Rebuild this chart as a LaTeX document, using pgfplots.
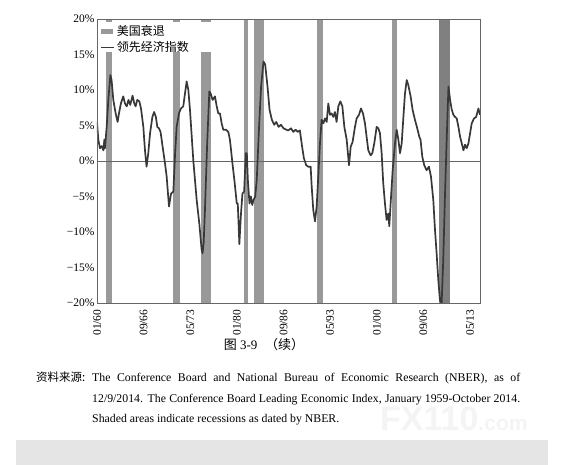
\documentclass[border=0pt]{standalone}
\usepackage{pgfplots}
\pgfplotsset{compat=1.18}
\usepackage{fontspec}
\setmainfont{Liberation Serif}
\newfontfamily\cjk{Noto Sans CJK SC}
\newfontfamily\wmfont{Liberation Sans}
\definecolor{recess}{gray}{0.6}
\definecolor{recessdark}{gray}{0.5}
\definecolor{leiline}{gray}{0.22}
\definecolor{frame}{gray}{0.4}
\pgfplotsset{
  recession legend/.style={legend image code/.code={\fill[recess] (0pt,-2.5pt) rectangle (12pt,2.5pt);}},
  short line legend/.style={legend image code/.code={\draw[##1] (0pt,0pt) -- (13pt,0pt);}},
}

\begin{document}
\begin{tikzpicture}
\useasboundingbox (0pt,0pt) rectangle (563pt,465pt);
% page artefacts
\fill[gray!20] (16pt,0pt) rectangle (548pt,25pt);
\node[anchor=base west, text=gray!9, inner sep=0pt] at (380pt,34pt)
  {\wmfont\bfseries\fontsize{34}{34}\selectfont FX110{\fontsize{21}{21}\selectfont .com}};

\begin{axis}[
  at={(97pt,162pt)}, anchor=south west,
  width=383pt, height=284pt, scale only axis,
  xmin=0, xmax=657, ymin=-20, ymax=20,
  axis on top,
  axis line style={frame, line width=0.8pt},
  tick style={draw=none},
  xtick={0,80,160,240,320,400,480,560,640},
  xticklabels={01/60,09/66,05/73,01/80,09/86,05/93,01/00,09/06,05/13},
  xticklabel style={rotate=90, anchor=east, xshift=-3pt,
    font=\fontsize{11.5}{12}\selectfont},
  ytick={-20,-15,-10,-5,0,5,10,15,20},
  yticklabels={−20\%,−15\%,−10\%,−5\%,0\%,5\%,10\%,15\%,20\%},
  yticklabel style={font=\fontsize{11.5}{12}\selectfont, xshift=1pt},
  legend style={at={(0.008,0.986)}, anchor=north west, draw=none, fill=none,
    inner sep=0pt, row sep=0pt,
    nodes={inner ysep=2.3pt, inner xsep=2pt},
    font=\cjk\fontsize{12}{13}\selectfont},
  legend cell align=left,
]
% NBER recessions (months from the left edge)
\addplot[fill=recess, draw=none, recession legend]
  coordinates {(15,-20) (15,20) (26,20) (26,-20)} -- cycle;
\addlegendentry{美国衰退}
\addplot[fill=recess, draw=none, forget plot] coordinates {(131,-20) (131,20) (143,20) (143,-20)} -- cycle;
\addplot[fill=recess, draw=none, forget plot] coordinates {(178,-20) (178,20) (195,20) (195,-20)} -- cycle;
\addplot[fill=recess, draw=none, forget plot] coordinates {(252,-20) (252,20) (259,20) (259,-20)} -- cycle;
\addplot[fill=recess, draw=none, forget plot] coordinates {(270,-20) (270,20) (287,20) (287,-20)} -- cycle;
\addplot[fill=recess, draw=none, forget plot] coordinates {(378,-20) (378,20) (387,20) (387,-20)} -- cycle;
\addplot[fill=recess, draw=none, forget plot] coordinates {(506,-20) (506,20) (515,20) (515,-20)} -- cycle;
\addplot[fill=recessdark, draw=none, forget plot] coordinates {(587,-20) (587,20) (606,20) (606,-20)} -- cycle;

% white backdrop of the legend
\fill[white] (rel axis cs:0.004,0.884) rectangle (rel axis cs:0.30,0.988);

% zero line
\addplot[frame, line width=0.8pt, forget plot] coordinates {(0,0) (657,0)};

% Leading Economic Index, year-over-year change
\addplot[leiline, line width=1.7pt, line join=round, short line legend]
  coordinates {
  (0,5.5) (2.3,3.0) (5,1.8) (8,2.1) (11,1.5) (12.6,3.0) (13.7,1.8) (16.6,4.8)
  (19.4,8.6) (22.9,12.1) (25,11.4) (28,8.6) (32,6.7) (35.4,5.5) (37.7,6.7)
  (41,8.1) (45,9.1) (48,8.1) (51,7.7) (54,8.6) (57,7.9) (61,9.2) (64,8.1)
  (66.3,7.7) (69,8.6) (72.6,8.4) (75.5,7.4) (79.5,4.8) (82.3,1.5) (85,-0.8)
  (88,1.1) (91,3.9) (95,6.2) (98,6.9) (101,6.2) (103.5,4.8) (106.3,4.6)
  (109,4.1) (112.6,2.0) (116.6,-0.3) (119.5,-2.2) (123.5,-6.4) (127,-4.6)
  (131,-4.3) (134,1.1) (136.6,4.8) (140.6,6.7) (144,7.4) (148,7.7) (150.9,9.5)
  (153.8,11.2) (156.7,10.0) (159.5,7.2) (165.2,0.1) (171,-5.5) (175.5,-8.8)
  (179.5,-12.5) (181,-13.0) (183,-11.5) (185.2,-6.9) (189,2.5) (192.7,9.8)
  (195,9.5) (198.4,8.6) (202.4,9.1) (205.3,7.7) (208.1,6.7) (211,6.7)
  (213.8,5.3) (216.7,4.4) (221.3,4.4) (225.3,4.1) (228,3.0) (230,1.5)
  (232.3,-0.3) (235.7,-2.7) (239.8,-6.0) (241.5,-6.0) (244.2,-11.7)
  (246.7,-7.8) (249.5,-4.6) (252.4,-4.3) (255.3,1.1) (257,1.1) (258.8,-2.7)
  (261.6,-6.0) (264,-5.0) (266.3,-6.2) (268.5,-5.5) (271.4,-5.0) (274,-2.7)
  (278,4.8) (281.5,10.5) (285.6,14.0) (288.5,13.6) (292.5,10.5) (296,7.2)
  (300,5.8) (304,5.1) (307.5,5.5) (311.5,4.8) (315.5,5.1) (320,4.6) (325,4.4)
  (328,4.3) (332.8,4.6) (336.8,4.1) (340.8,4.4) (344.2,4.1) (348,4.3)
  (351.9,2.0) (354.9,0.4) (358.9,-0.6) (362.3,-0.8) (366.5,-0.8) (368.3,-3.6)
  (371,-6.9) (374,-8.5) (376.8,-6.4) (379.6,-2.2) (382.5,2.5) (385.3,5.8)
  (388.3,5.3) (391.1,6.0) (394,5.5) (396.8,8.1) (399.6,6.5) (402.5,6.7)
  (405.4,6.2) (408.2,6.9) (411,5.5) (414,7.7) (417.4,8.4) (420.9,7.7)
  (424.3,4.8) (428.3,3.0) (432.3,-0.6) (435.2,2.0) (438.5,2.7) (442.5,4.8)
  (445.4,6.0) (449.4,6.5) (452.8,7.4) (456.3,6.7) (459.7,5.3) (462.5,3.4)
  (465.4,1.5) (469.4,0.8) (472.3,1.1) (475.7,2.5) (479.7,4.8) (482.6,4.6)
  (485.4,3.9) (488.3,1.1) (491,-3.1) (494,-6.0) (496.8,-8.3) (499.7,-7.4)
  (501.4,-9.2) (503.7,-6.0) (507.2,-1.3) (511.2,2.5) (514.1,4.4) (517,3.0)
  (519.8,1.1) (522.7,2.5) (525.6,6.2) (528.3,9.5) (531.3,11.4) (534,10.7)
  (538,9.1) (541.4,7.2) (545.4,5.8) (549.4,4.6) (552.9,3.4) (555,3.0)
  (558,0.6) (561.4,-0.6) (565.4,-1.3) (569.4,-0.8) (572.9,-2.2) (576.9,-5.5)
  (579.8,-9.7) (582.6,-13.0) (585.5,-16.8) (588.3,-19.6) (591.2,-20.0)
  (594,-13.9) (597,-4.6) (600,3.4) (602.9,10.5) (605.7,8.6) (608.6,7.2)
  (611.4,6.5) (614.3,6.2) (617.1,6.0) (620,4.8) (622.9,3.4) (625.7,2.5)
  (628.6,1.5) (631.4,2.3) (634.3,1.8) (637.2,2.5) (640,3.9) (642.8,5.3)
  (646.8,6.0) (650.3,6.2) (654.3,7.4) (657,6.5)
  };
\addlegendentry{领先经济指数}
\end{axis}

% caption and source note
\node[anchor=base, inner sep=0pt] at (264pt,115pt)
  {\fontsize{13}{14}\selectfont{\cjk 图} 3-9\hspace{0.6em}{\cjk （续）}};
\node[anchor=base west, inner sep=0pt] at (36pt,83pt)
  {\cjk\fontsize{11.5}{12}\selectfont 资料来源:};
\node[anchor=base west, inner sep=0pt] at (92pt,83pt)
  {\parbox[t]{428pt}{\fontsize{11.8}{20.5}\selectfont
  The Conference Board and National Bureau of Economic Research (NBER), as of\linebreak
  12/9/2014. The Conference Board Leading Economic Index, January 1959-October 2014.\linebreak
  Shaded areas indicate recessions as dated by NBER.}};
\end{tikzpicture}
\end{document}
